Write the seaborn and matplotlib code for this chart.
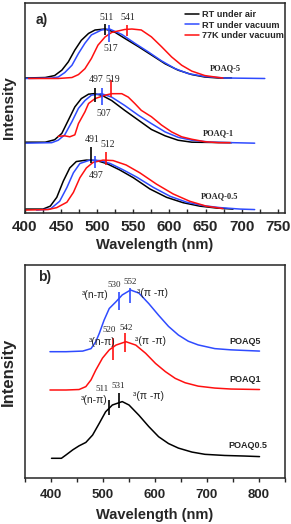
import numpy as np
import matplotlib
matplotlib.use("Agg")
import matplotlib.pyplot as plt
from matplotlib.ticker import MultipleLocator
import seaborn as sns

# ---- panel a: normalised PL spectra (wavelength nm, intensity) ----
p5_air_wl = [400, 428, 441, 451, 460, 469, 478, 488, 497, 511, 525, 538, 557, 575, 594, 612, 631, 649, 668, 686]
p5_air_I = [0, 0.01, 0.05, 0.16, 0.33, 0.57, 0.77, 0.91, 0.98, 1.0, 0.93, 0.81, 0.64, 0.47, 0.29, 0.16, 0.07, 0.02, 0, 0]
p5_vac_wl = [400, 437, 446, 455, 465, 474, 483, 492, 506, 517, 534, 552, 571, 589, 608, 626, 649, 677, 732]
p5_vac_I = [-0.01, 0, 0.02, 0.11, 0.26, 0.5, 0.71, 0.88, 0.98, 1.0, 0.89, 0.71, 0.53, 0.35, 0.19, 0.09, 0.03, 0, -0.01]
p5_77k_wl = [405, 446, 465, 474, 483, 492, 501, 511, 520, 529, 538, 548, 561, 575, 589, 603, 617, 631, 649, 668, 674]
p5_77k_I = [-0.01, -0.01, 0.01, 0.07, 0.19, 0.40, 0.67, 0.84, 0.93, 0.96, 0.99, 1.0, 0.98, 0.84, 0.64, 0.43, 0.26, 0.14, 0.05, 0.01, 0]

p1_air_wl = [400, 428, 441, 451, 460, 469, 478, 488, 495, 506, 520, 538, 557, 575, 594, 612, 631, 686]
p1_air_I = [0.01, 0.01, 0.06, 0.19, 0.46, 0.73, 0.9, 0.99, 1.0, 0.97, 0.86, 0.66, 0.46, 0.27, 0.14, 0.05, 0.01, 0]
p1_vac_wl = [400, 437, 446, 455, 465, 474, 483, 492, 506, 520, 538, 557, 575, 594, 612, 631, 658, 718]
p1_vac_I = [-0.01, 0, 0.05, 0.16, 0.43, 0.7, 0.86, 0.97, 1.0, 0.93, 0.76, 0.56, 0.39, 0.22, 0.11, 0.05, 0.01, -0.01]
p1_77k_wl = [446, 455, 462, 469, 474, 483, 488, 497, 511, 520, 534, 543, 552, 561, 575, 589, 603, 617, 631, 649, 668, 684]
p1_77k_I = [0.13, 0.14, 0.12, 0.16, 0.39, 0.63, 0.80, 0.90, 0.97, 1.0, 1.0, 0.93, 0.80, 0.66, 0.53, 0.36, 0.22, 0.12, 0.07, 0.02, 0, 0]

p05_air_wl = [400, 425, 435, 444, 453, 462, 471, 485, 499, 513, 531, 550, 573, 596, 619, 642, 666, 688]
p05_air_I = [0, 0, 0.06, 0.24, 0.57, 0.84, 0.97, 1.0, 0.99, 0.93, 0.80, 0.64, 0.41, 0.24, 0.13, 0.06, 0.02, 0]
p05_vac_wl = [416, 435, 448, 458, 467, 476, 490, 504, 518, 536, 555, 578, 601, 624, 647, 670, 698, 718]
p05_vac_I = [-0.02, 0, 0.16, 0.44, 0.74, 0.93, 1.0, 0.99, 0.93, 0.80, 0.65, 0.44, 0.26, 0.14, 0.07, 0.03, 0, -0.01]
p05_77k_wl = [401, 432, 444, 458, 467, 476, 485, 494, 508, 522, 540, 559, 582, 605, 628, 651, 674]
p05_77k_I = [-0.02, -0.01, 0.03, 0.14, 0.34, 0.64, 0.84, 0.95, 1.0, 0.99, 0.90, 0.74, 0.51, 0.31, 0.16, 0.06, 0.01]

a_conditions = ["RT under air", "RT under vacuum", "77K under vacuum"]
a_samples = ["POAQ-0.5", "POAQ-1", "POAQ-5"]
a_offsets = [0.08, 1.435, 2.755]
a_peaks = [[491, 497, 512], [497, 507, 519], [511, 517, 541]]

# ---- panel b: phosphorescence spectra ----
b5_wl = [398, 429, 461, 477, 486, 493, 502, 512, 525, 537, 553, 569, 588, 607, 626, 645, 664, 683, 715, 746, 801]
b5_I = [0, 0, 0.01, 0.05, 0.16, 0.30, 0.51, 0.70, 0.81, 0.92, 1.0, 0.95, 0.78, 0.59, 0.41, 0.27, 0.17, 0.11, 0.05, 0.03, 0.01]
b1_wl = [398, 429, 454, 467, 477, 486, 499, 512, 525, 544, 563, 582, 601, 620, 639, 658, 683, 715, 746, 801]
b1_I = [0, 0, 0.01, 0.07, 0.21, 0.41, 0.66, 0.83, 0.93, 1.0, 0.93, 0.76, 0.55, 0.38, 0.24, 0.15, 0.08, 0.04, 0.02, 0.01]
b05_wl = [401, 420, 429, 442, 454, 467, 480, 493, 505, 518, 537, 550, 569, 588, 607, 626, 645, 671, 696, 734, 772, 801]
b05_I = [0, 0, 0.06, 0.15, 0.22, 0.28, 0.41, 0.62, 0.82, 0.94, 1.0, 0.94, 0.76, 0.56, 0.38, 0.26, 0.18, 0.11, 0.07, 0.05, 0.04, 0.03]

b_samples = ["POAQ0.5", "POAQ1", "POAQ5"]
b_offsets = [19.7, 88, 126.3]
b_scales = [56.7, 48.3, 61.7]
b_peaks = [[511, 531], [520, 542], [530, 552]]

BLACK, BLUE, RED = "#000000", "#2f4bff", "#ff1010"
a_colors = [BLACK, BLUE, RED]
b_colors = [BLACK, RED, BLUE]

sns.set_theme(style="ticks")
plt.rcParams["font.family"] = ["Liberation Sans", "DejaVu Sans"]
plt.rcParams["axes.linewidth"] = 1.1
SERIF = ["Liberation Serif", "DejaVu Serif"]

fig = plt.figure(figsize=(2.91, 5.24), dpi=100)
axa = fig.add_axes([25 / 291, 1 - 213 / 524, 260 / 291, 210 / 524])
axb = fig.add_axes([25 / 291, 1 - 478 / 524, 260 / 291, 213 / 524])

# ---------------- panel a ----------------
a_curves = [
    [(p05_air_wl, p05_air_I), (p05_vac_wl, p05_vac_I), (p05_77k_wl, p05_77k_I)],
    [(p1_air_wl, p1_air_I), (p1_vac_wl, p1_vac_I), (p1_77k_wl, p1_77k_I)],
    [(p5_air_wl, p5_air_I), (p5_vac_wl, p5_vac_I), (p5_77k_wl, p5_77k_I)],
]
for g, (curves, off) in enumerate(zip(a_curves, a_offsets)):
    for k, (wl, inten) in enumerate(curves):
        sns.lineplot(x=wl, y=np.array(inten) + off, color=a_colors[k], lw=1.1,
                     estimator=None, sort=False, ax=axa,
                     label=a_conditions[k] if g == 2 else None)

# peak markers: (line bottom, line top, label y) relative to baseline
a_marks = [
    [(0.94, 1.27, 1.41), (0.84, 1.08, 0.69), (0.90, 1.16, 1.31)],
    [(0.84, 1.12, 1.29), (0.77, 1.12, 0.60), (0.94, 1.28, 1.29)],
    [(0.88, 1.10, 1.23), (0.73, 1.08, 0.61), (0.86, 1.08, 1.23)],
]
for g in range(3):
    off = a_offsets[g]
    for k in range(3):
        x = a_peaks[g][k]
        y0, y1, ty = a_marks[g][k]
        axa.vlines(x, off + y0, off + y1, color=a_colors[k], lw=1.2)
        axa.text(x + 2, off + ty, str(x), ha="center", va="center",
                 fontsize=7, family=SERIF)

a_lab_pos = [(670, 0.27), (668, 0.2), (677, 0.2)]
for s, off, (lx, ly) in zip(a_samples, a_offsets, a_lab_pos):
    axa.text(lx, off + ly, s, ha="center", va="center", fontsize=6,
             fontweight="bold", family=SERIF)

axa.set_xlim(400, 760)
axa.set_ylim(0, 210 / 49)
axa.set_yticks([])
axa.xaxis.set_major_locator(MultipleLocator(50))
axa.xaxis.set_minor_locator(MultipleLocator(25))
axa.tick_params(axis="x", which="both", direction="in", length=3, width=1,
                labelsize=11, pad=5)
for t in axa.get_xticklabels():
    t.set_fontweight("bold")
axa.set_xlabel("Wavelength (nm)", fontsize=10.5, fontweight="bold", labelpad=3)
axa.set_ylabel("Intensity", fontsize=11, fontweight="bold")
axa.yaxis.set_label_coords(-0.035, 0.5)
axa.text(0.04, 0.92, "a)", transform=axa.transAxes, fontsize=10,
         fontweight="bold", ha="left", va="center")
axa.legend(loc="upper left", bbox_to_anchor=(0.6, 0.985), frameon=False,
           prop={"weight": "bold", "size": 6.6}, handlelength=1.6,
           handletextpad=0.25, labelspacing=0.2, borderaxespad=0.0)

# ---------------- panel b ----------------
b_curves = [(b05_wl, b05_I), (b1_wl, b1_I), (b5_wl, b5_I)]
for (wl, inten), off, sc, c in zip(b_curves, b_offsets, b_scales, b_colors):
    sns.lineplot(x=wl, y=np.array(inten) * sc + off, color=c, lw=1.1,
                 estimator=None, sort=False, ax=axb)

# (line bottom, line top, label x, label y) in axis units above baseline
b_marks = [
    [(43, 58, 498, 69), (50, 65, 530, 72)],
    [(30, 52, 512, 60), (38, 57, 545, 62)],
    [(42, 60, 522, 67), (49, 64, 553, 70)],
]
b_pair_pos = [((483, 58), (588, 62)), ((499, 48), (592, 49)), ((486, 57), (596, 59))]
for i in range(3):
    off = b_offsets[i]
    for j in range(2):
        x = b_peaks[i][j]
        y0, y1, lx, ly = b_marks[i][j]
        axb.vlines(x, off + y0, off + y1, color=b_colors[i], lw=1.2)
        axb.text(lx, off + ly, str(x), ha="center", va="center", fontsize=6.5,
                 family=SERIF)
    (nx, ny), (px, py) = b_pair_pos[i]
    axb.text(nx, off + ny, "³(n-π)", ha="center", va="center", fontsize=7.5)
    axb.text(px, off + py, "³(π -π)", ha="center", va="center", fontsize=7.5)

b_lab_pos = [(779, 13), (774, 10), (774, 10)]
for s, off, (lx, ly) in zip(b_samples, b_offsets, b_lab_pos):
    axb.text(lx, off + ly, s, ha="center", va="center", fontsize=6.5,
             fontweight="bold")

axb.set_xlim(350, 850)
axb.set_ylim(0, 213)
axb.set_yticks([])
axb.xaxis.set_major_locator(MultipleLocator(100))
axb.xaxis.set_minor_locator(MultipleLocator(50))
axb.tick_params(axis="x", which="both", direction="out", length=3, width=1,
                labelsize=9.5, pad=5)
for t in axb.get_xticklabels():
    t.set_fontweight("bold")
axb.set_xlabel("Wavelength (nm)", fontsize=10.5, fontweight="bold", labelpad=5)
axb.set_ylabel("Intensity", fontsize=12, fontweight="bold")
axb.yaxis.set_label_coords(-0.035, 0.5)
axb.text(0.05, 0.945, "b)", transform=axb.transAxes, fontsize=10,
         fontweight="bold", ha="left", va="center")

fig.savefig("out.png", dpi=100)
